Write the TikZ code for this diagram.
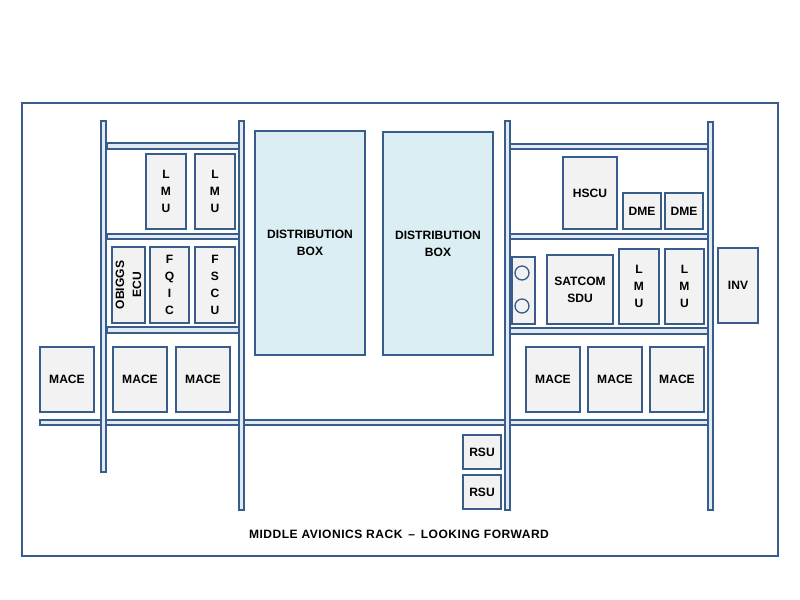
\documentclass[tikz,border=0pt]{standalone}
\usepackage{fontspec}
\setmainfont{Liberation Sans}
\definecolor{rackblue}{RGB}{56,93,138}
\definecolor{unitgrey}{RGB}{242,242,242}
\definecolor{distblue}{RGB}{219,238,244}
\definecolor{railfill}{RGB}{225,234,245}
\newcommand{\unitfont}{\fontsize{10.3}{14.5}\selectfont\bfseries}
\tikzset{
  frame/.style={draw=rackblue,line width=2pt},
  rail/.style={draw=rackblue,line width=1.1pt,fill=railfill},
  unit/.style={draw=rackblue,line width=1.4pt,fill=unitgrey,inner sep=0pt,align=center,font=\unitfont},
  dist/.style={unit,fill=distblue},
  knob/.style={circle,draw=rackblue,line width=1.1pt,fill=unitgrey,minimum size=0.42cm,inner sep=0pt},
  lab/.style={font=\unitfont,align=center,text=black},
}

\begin{document}
\begin{tikzpicture}[x=0.03cm,y=-0.03cm]
  \useasboundingbox (0,0) rectangle (800,600);
  \draw[frame] (22,103) rectangle (778,556);
  % shelves
  \foreach \xa/\ya/\xb/\yb in {107/143/239/149,107/234/239/239,107/327/239/333,
      510/144/708/149,510/234/708/239,510/328/708/334,40/420/708/425}
    {\draw[rail] (\xa,\ya) rectangle (\xb,\yb);}
  % posts
  \foreach \xa/\ya/\xb/\yb in {101/121/106/472,239/121/244/510,505/121/510/510,708/122/713/510}
    {\draw[rail] (\xa,\ya) rectangle (\xb,\yb);}
  % boxes
  \foreach \n/\s/\xa/\ya/\xb/\yb/\t in {
      distA/dist/255/131/365/355/{DISTRIBUTION\\BOX}, distB/dist/383/132/493/355/{DISTRIBUTION\\BOX},
      lmuA/unit/146/154/186/229/{L\\M\\U}, lmuB/unit/195/154/235/229/{L\\M\\U},
      obiggs/unit/112/247/145/323/{}, panel/unit/512/257/535/324/{},
      fqic/unit/150/247/189/323/{F\\Q\\I\\C}, fscu/unit/195/247/235/323/{F\\S\\C\\U},
      maceA/unit/40/347/94/412/MACE, maceB/unit/113/347/167/412/MACE, maceC/unit/176/347/230/412/MACE,
      hscu/unit/563/157/617/229/HSCU, dmeA/unit/623/193/661/229/DME, dmeB/unit/665/193/703/229/DME,
      satcom/unit/547/255/613/324/{SATCOM\\SDU}, lmuC/unit/619/249/659/324/{L\\M\\U},
      lmuD/unit/665/249/704/324/{L\\M\\U}, inv/unit/718/248/758/323/INV,
      maceD/unit/526/347/580/412/MACE, maceE/unit/588/347/642/412/MACE, maceF/unit/650/347/704/412/MACE,
      rsuA/unit/463/435/501/469/RSU, rsuB/unit/463/475/501/509/RSU}
    {\node[\s,minimum width={(\xb-\xa)*0.03cm},minimum height={(\yb-\ya)*0.03cm}]
       (\n) at ({(\xa+\xb)/2},{(\ya+\yb)/2}) {\t};}
  \node[lab,rotate=90] at (obiggs) {OBIGGS\\ECU};
  \node[knob] (knobA) at (522,273) {};
  \node[knob] (knobB) at (522,306) {};
  \node[lab,font=\unitfont\addfontfeature{LetterSpace=4}] (title) at (399,534)
    {MIDDLE AVIONICS RACK \,--\, LOOKING FORWARD};
\end{tikzpicture}
\end{document}
